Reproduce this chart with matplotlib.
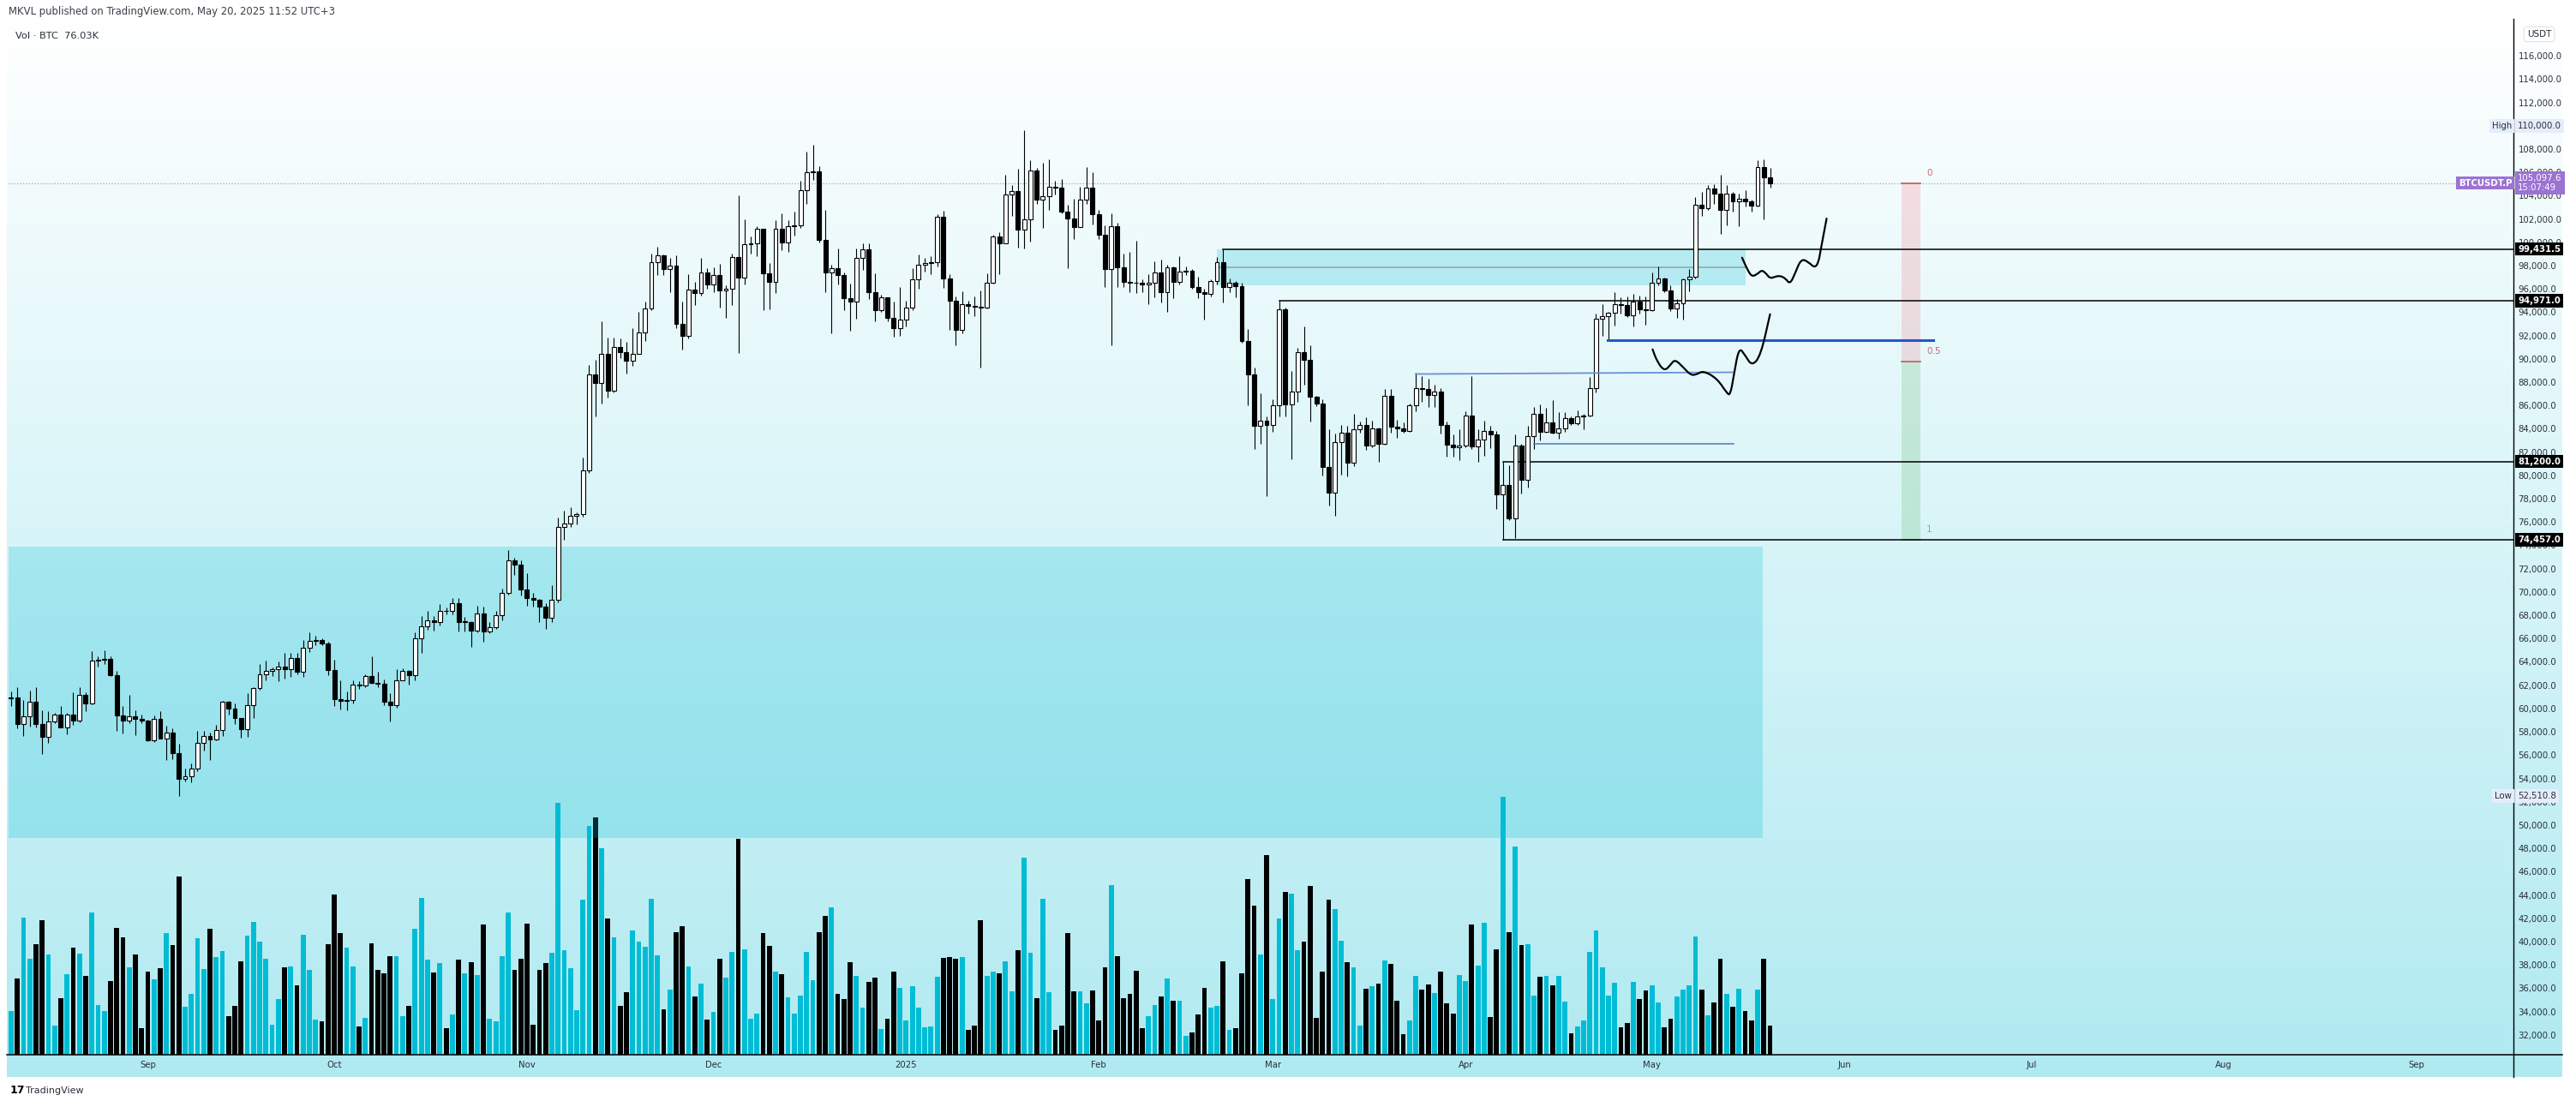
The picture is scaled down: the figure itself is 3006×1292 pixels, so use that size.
import numpy as np
import pandas as pd
import matplotlib
matplotlib.use("Agg")
import matplotlib.pyplot as plt
import matplotlib.transforms as mtransforms
from matplotlib.lines import Line2D
from matplotlib.patches import Rectangle, PathPatch
from matplotlib.path import Path

# ---------------- data (BTCUSDT.P daily) ----------------
base = pd.Timestamp("2024-09-01")
def d(s):
    return (pd.Timestamp(s) - base).days

dates = pd.date_range("2024-08-10", "2025-05-20", freq="D")

opens = [
    # Aug
    60900, 60950, 58700, 59350, 60600, 58700, 57550, 58900, 59500, 58400, 59500, 59000, 61150, 60400, 64100, 64200, 64250, 62850, 59400, 59000, 59350, 59100,
    # Sep
    58950, 57300, 59100, 57450, 57970, 56150, 53950, 54150, 54850, 57050, 57650, 57350, 58120, 60550, 60000, 59200, 58200, 60300, 61750, 62950, 63200, 63350, 63600, 63350, 64300, 63150, 65200, 65800, 65850, 65600,
    # Oct
    63300, 60800, 60650, 60750, 62050, 62000, 62800, 62200, 62150, 60600, 60300, 62450, 63200, 62850, 66050, 67050, 67600, 67400, 68400, 68350, 69000, 67400, 67450, 66650, 68150, 66600, 67000, 68000, 69900, 72700, 72350,
    # Nov
    70200, 69500, 69300, 68750, 67800, 69350, 75600, 75900, 76500, 76700, 80400, 88700, 87950, 90400, 87300, 91050, 90600, 89850, 90450, 92300, 94300, 98300, 98900, 97700, 98000, 93000, 91950, 95950, 95650, 97450,
    # Dec
    96400, 97200, 95850, 96000, 98750, 97000, 99850, 99900, 101150, 97350, 96600, 101150, 100000, 101400, 101450, 104450, 106050, 106100, 100200, 97450, 97750, 97200, 95200, 94900, 98650, 99400, 95750, 94200, 95250, 93550, 92650,
    # Jan
    93400, 94400, 96850, 98100, 98200, 98300, 102200, 96900, 95000, 92500, 94700, 94550, 94500, 94400, 96500, 100500, 99950, 104100, 104400, 101100, 102000, 106150, 103650, 103950, 104800, 104700, 102600, 102050, 101300, 103700, 104700,
    # Feb
    102400, 100650, 97700, 101400, 97850, 96600, 96550, 96500, 96400, 96500, 97400, 95750, 97850, 96600, 97500, 97550, 96150, 95750, 95550, 96650, 98300, 96150, 96550, 96250, 91550, 88700, 84250, 84700,
    # Mar
    84350, 86050, 94250, 86100, 87200, 90600, 89950, 86750, 86150, 80700, 78550, 82850, 83650, 81100, 83950, 84350, 82550, 84050, 82700, 86850, 84200, 84050, 83800, 86050, 87500, 87450, 86900, 87200, 84350, 82650, 82400,
    # Apr
    82550, 85150, 82500, 83100, 83850, 83500, 78350, 79150, 76300, 82600, 79600, 83400, 85300, 83750, 84550, 83650, 84050, 84900, 84450, 85050, 85150, 87500, 93450, 93650, 93950, 94700, 94650, 93750, 94950, 94250,
    # May
    94200, 96500, 96900, 95900, 94300, 94750, 96800, 97050, 103250, 102950, 104650, 104150, 102800, 104150, 103500, 103750, 103500, 103150, 106450, 105600,
]
highs = [
    61450, 61850, 60700, 61550, 61800, 59850, 59800, 59650, 60250, 59600, 61400, 61800, 61400, 64950, 64500, 65000, 64450, 63200, 60200, 61150, 59850, 59450,
    59050, 59400, 59800, 58500, 58300, 56950, 54850, 55300, 58100, 58050, 57950, 58600, 60650, 60650, 60400, 59200, 61350, 61800, 63850, 64100, 63550, 64000, 64750, 64800, 64800, 65850, 66500, 66250, 66050, 65700,
    64150, 62400, 61450, 62450, 62350, 62950, 64450, 63150, 62500, 61300, 63400, 63450, 63300, 66500, 67900, 68400, 67950, 68950, 68700, 69450, 69500, 67850, 67500, 68800, 68750, 67400, 68350, 70250, 73600, 72950, 72700,
    71600, 69900, 69400, 69050, 70550, 76400, 76950, 77250, 76850, 81500, 89500, 89950, 93250, 91800, 91850, 91750, 91450, 92600, 94000, 94950, 99000, 99600, 98950, 98700, 98900, 94950, 97300, 96600, 98650, 97750,
    97850, 98150, 96300, 99000, 104050, 101950, 100500, 101350, 101200, 98250, 101900, 102500, 101900, 102650, 105250, 107800, 108350, 106500, 102800, 98100, 99500, 97400, 96450, 99450, 99950, 99950, 97350, 95500, 95250, 94950, 96150,
    95000, 97800, 98950, 98700, 98800, 102450, 102700, 97250, 95350, 95800, 95000, 95350, 95850, 97350, 100650, 100850, 105800, 104950, 106300, 109600, 107050, 106400, 106850, 107100, 105250, 105450, 103200, 103750, 104800, 106450, 106000,
    102750, 101450, 102500, 101700, 99000, 99200, 100150, 96850, 97300, 98350, 98500, 98100, 97950, 98800, 97950, 97700, 97050, 96000, 96850, 98750, 99431.5, 96900, 96650, 96500, 92550, 89250, 87050, 85100,
    86550, 94971, 94400, 88950, 90950, 92800, 91200, 86850, 86500, 83950, 83600, 84350, 84250, 85250, 84650, 85000, 84700, 84100, 87450, 87450, 84800, 84550, 86150, 88800, 88550, 88300, 87800, 87500, 84600, 83550, 83950,
    85500, 88500, 83950, 84700, 84250, 83800, 81200, 80850, 83550, 82700, 84250, 85900, 86100, 85800, 86450, 85450, 85450, 85100, 85600, 85300, 88450, 93850, 94700, 94000, 95750, 95300, 95350, 95600, 95450, 95350,
    97400, 97900, 96950, 96300, 95150, 96900, 97700, 103850, 104350, 104950, 105000, 105800, 104900, 104300, 104150, 104500, 103700, 107050, 107100, 106400,
]
lows = [
    60250, 58300, 57650, 58450, 58400, 56100, 57050, 58750, 58400, 57800, 58600, 58800, 59800, 60350, 63600, 63800, 62800, 58100, 57850, 58750, 57750, 58750,
    57200, 57100, 57400, 55600, 55650, 52510.8, 53750, 53650, 54600, 56400, 55550, 57300, 57650, 59450, 58700, 57500, 57600, 59200, 61600, 62400, 62800, 62350, 62600, 62700, 62950, 62700, 64850, 65400, 65450, 62850,
    60200, 59900, 59850, 60450, 61650, 61850, 62100, 61800, 60300, 58900, 60050, 62450, 62050, 62400, 64800, 66750, 66650, 67150, 68050, 68050, 66600, 66600, 65250, 66550, 65700, 66450, 66800, 67550, 69750, 71450, 69700,
    68800, 68750, 67450, 66800, 67450, 69100, 74450, 75600, 75800, 76450, 80200, 85100, 86150, 86650, 87100, 90050, 88750, 89400, 90400, 91550, 94150, 97200, 97200, 95700, 92600, 90800, 91750, 94650, 95400, 96000,
    95700, 94400, 93550, 94650, 90500, 96400, 99000, 98800, 94150, 94250, 95650, 99300, 99200, 100600, 101250, 103300, 105350, 100000, 95700, 92200, 96400, 94200, 92400, 93450, 97600, 95150, 93250, 94050, 93200, 91900, 92000,
    92750, 94200, 96000, 97500, 97250, 97900, 96100, 92500, 91200, 92200, 93850, 93700, 89250, 94300, 96450, 97300, 99900, 102300, 99550, 99450, 100050, 103300, 101250, 102750, 104100, 102500, 97750, 100250, 101300, 103300, 101550,
    100300, 96150, 91200, 96150, 96200, 95700, 95650, 95700, 94700, 95250, 94850, 94050, 95200, 96350, 97200, 96050, 95200, 93350, 95350, 96400, 94850, 95700, 95250, 91350, 86050, 82250, 82700, 78200,
    83750, 85050, 85100, 81400, 86350, 87800, 84650, 85950, 80000, 77400, 76550, 80050, 79900, 80800, 83650, 82200, 82450, 81150, 82650, 83650, 83200, 83650, 83750, 85500, 86300, 85900, 85850, 83600, 81600, 81600, 81300,
    82450, 82300, 81200, 81650, 82350, 77150, 74457, 76200, 74600, 78450, 78950, 82300, 83000, 83700, 83600, 83150, 83750, 84300, 84350, 83950, 85100, 87100, 91950, 91650, 92850, 93900, 93600, 92800, 93900, 92900,
    94100, 96300, 95700, 94100, 93500, 93350, 95800, 96900, 102300, 102800, 103300, 100700, 101450, 102600, 101400, 103100, 102600, 103050, 102000, 104700,
]
closes = [
    60950, 58700, 59350, 60600, 58700, 57550, 58900, 59500, 58400, 59500, 59000, 61150, 60400, 64100, 64200, 64250, 62850, 59400, 59000, 59350, 59100, 58950,
    57300, 59100, 57450, 57970, 56150, 53950, 54150, 54850, 57050, 57650, 57350, 58120, 60550, 60000, 59200, 58200, 60300, 61750, 62950, 63200, 63350, 63600, 63350, 64300, 63150, 65200, 65800, 65850, 65600, 63300,
    60800, 60650, 60750, 62050, 62000, 62800, 62200, 62150, 60600, 60300, 62450, 63200, 62850, 66050, 67050, 67600, 67400, 68400, 68350, 69000, 67400, 67450, 66650, 68150, 66600, 67000, 68000, 69900, 72700, 72350, 70200,
    69500, 69300, 68750, 67800, 69350, 75600, 75900, 76500, 76700, 80400, 88700, 87950, 90400, 87300, 91050, 90600, 89850, 90450, 92300, 94300, 98300, 98900, 97700, 98000, 93000, 91950, 95950, 95650, 97450, 96400,
    97200, 95850, 96000, 98750, 97000, 99850, 99900, 101150, 97350, 96600, 101150, 100000, 101400, 101450, 104450, 106050, 106100, 100200, 97450, 97750, 97200, 95200, 94900, 98650, 99400, 95750, 94200, 95250, 93550, 92650, 93400,
    94400, 96850, 98100, 98200, 98300, 102200, 96900, 95000, 92500, 94700, 94550, 94500, 94400, 96500, 100500, 99950, 104100, 104400, 101100, 102000, 106150, 103650, 103950, 104800, 104700, 102600, 102050, 101300, 103700, 104700, 102400,
    100650, 97700, 101400, 97850, 96600, 96550, 96500, 96400, 96500, 97400, 95750, 97850, 96600, 97500, 97550, 96150, 95750, 95550, 96650, 98300, 96150, 96550, 96250, 91550, 88700, 84250, 84700, 84350,
    86050, 94250, 86100, 87200, 90600, 89950, 86750, 86150, 80700, 78550, 82850, 83650, 81100, 83950, 84350, 82550, 84050, 82700, 86850, 84200, 84050, 83800, 86050, 87500, 87450, 86900, 87200, 84350, 82650, 82400, 82550,
    85150, 82500, 83100, 83850, 83500, 78350, 79150, 76300, 82600, 79600, 83400, 85300, 83750, 84550, 83650, 84050, 84900, 84450, 85050, 85150, 87500, 93450, 93650, 93950, 94700, 94650, 93750, 94950, 94250, 94200,
    96500, 96900, 95900, 94300, 94750, 96800, 97050, 103250, 102950, 104650, 104150, 102800, 104150, 103500, 103750, 103500, 103150, 106450, 105600, 105097.6,
]
# volume, thousands of BTC
volumes = [
    114.2, 200.1, 358.4, 250.9, 289.7, 351.7, 262.1, 76.9, 147.8, 210.6, 280.0, 264.3, 206.1, 371.9, 129.2, 114.2, 192.6, 331.5, 306.9, 228.5, 262.1, 69.4,
    217.3, 197.1, 226.3, 318.1, 286.7, 465.9, 125.4, 159.0, 304.7, 224.0, 329.3, 255.4, 271.1, 100.8, 127.7, 244.2, 311.4, 347.2, 295.7, 250.9, 78.4, 145.6, 228.5, 230.7, 181.4, 313.6, 221.8, 91.8, 87.4, 289.0,
    418.9, 318.1, 280.0, 230.7, 73.9, 96.3, 291.2, 221.8, 212.8, 257.6, 257.6, 100.8, 127.7, 329.3, 409.9, 248.7, 215.0, 239.7, 69.4, 105.3, 248.7, 212.8, 241.9, 208.3, 340.5, 94.1, 87.4, 257.6, 371.9, 221.8, 250.9,
    342.7, 78.4, 221.8, 239.7, 266.6, 658.6, 273.3, 226.3, 116.5, 405.5, 598.1, 620.5, 539.9, 356.2, 306.9, 127.7, 163.5, 324.8, 295.7, 282.3, 407.7, 259.9, 118.7, 170.2, 320.3, 336.0, 230.7, 152.3, 185.9, 91.8,
    112.0, 250.9, 201.6, 268.8, 564.5, 275.5, 94.1, 107.5, 318.1, 284.5, 217.3, 210.6, 150.1, 107.5, 154.6, 268.8, 194.9, 320.3, 362.9, 385.3, 159.0, 145.6, 241.9, 206.1, 123.2, 190.4, 201.6, 67.2, 94.1, 217.3, 174.7,
    89.6, 179.2, 123.2, 71.7, 73.9, 203.8, 253.1, 255.4, 250.9, 255.4, 65.0, 76.2, 351.7, 206.1, 217.3, 212.8, 244.2, 165.8, 273.3, 515.2, 266.6, 147.8, 407.7, 163.5, 65.0, 76.2, 318.1, 165.8, 165.8, 134.4, 168.0,
    89.6, 228.5, 443.5, 257.6, 147.8, 159.0, 219.5, 69.4, 100.8, 129.9, 152.3, 199.4, 141.1, 141.1, 49.3, 58.2, 105.3, 174.7, 123.2, 127.7, 244.2, 65.0, 69.4, 212.8, 459.2, 389.8, 262.1, 521.9,
    145.6, 356.2, 425.6, 421.1, 273.3, 295.7, 441.3, 96.3, 217.3, 405.5, 380.8, 297.9, 241.9, 228.5, 76.2, 172.5, 179.2, 185.9, 246.4, 237.5, 141.1, 53.8, 89.6, 206.1, 170.2, 183.7, 161.3, 217.3, 134.4, 107.5, 208.3,
    192.6, 340.5, 233.0, 345.0, 98.6, 275.5, 674.3, 320.3, 544.3, 286.7, 289.0, 154.6, 203.8, 206.1, 181.4, 206.1, 138.9, 56.0, 73.9, 89.6, 268.8, 324.8, 228.5, 154.6, 188.2, 71.7, 82.9, 190.4, 145.6, 168.0,
    181.4, 136.6, 71.7, 94.1, 152.3, 170.2, 181.4, 309.1, 170.2, 103.0, 136.6, 250.9, 159.0, 125.4, 172.5, 114.2, 89.6, 170.2, 250.9, 76.03,
]

month_ticks = ["2024-09-01", "2024-10-01", "2024-11-01", "2024-12-01", "2025-01-01", "2025-02-01", "2025-03-01",
               "2025-04-01", "2025-05-01", "2025-06-01", "2025-07-01", "2025-08-01", "2025-09-01"]
month_labels = ["Sep", "Oct", "Nov", "Dec", "2025", "Feb", "Mar", "Apr", "May", "Jun", "Jul", "Aug", "Sep"]

last_price = 105097.6
# horizontal levels: (price, start date, label)
levels = [(99431.5, "2025-02-21", "99,431.5"), (94971.0, "2025-03-02", "94,971.0"),
          (81200.0, "2025-04-07", "81,200.0"), (74457.0, "2025-04-07", "74,457.0")]
high_label, low_label = 110000.0, 52510.8

# zones
big_zone = ("2024-08-07", 259.8, 48880, 73880)        # start, end day, bottom, top
small_zone = ("2025-02-20", "2025-05-16", 96330, 99431.5)
small_zone_mid = 97850

# blue lines: (x0 day, x1 day, y0, y1)
blue_lines = [(234.9, 287.2, 91600, 91600), (204.0, 255.0, 88700, 88850), (223.0, 255.2, 82700, 82700)]

# fib tool
fib_x = (282.1, 285.2)
fib_top, fib_bottom = last_price, 74457.0

# freehand paths (day offsets from 2024-09-01, price)
path_a_x = [256.5, 257.4, 258.1, 259.0, 259.7, 260.4, 261.0, 261.8, 262.6, 263.5, 264.2, 265.0, 266.0, 267.2, 268.2, 268.8, 269.1, 270.1]
path_a_y = [98684, 97600, 97044, 97300, 97632, 97300, 96897, 97050, 97140, 96900, 96404, 97300, 98610, 98300, 97800, 98300, 99228, 102044]
path_b_x = [242.1, 242.8, 244.0, 245.0, 245.7, 247.0, 248.3, 249.3, 250.3, 252.5, 254.0, 254.6, 255.2, 256.0, 257.0, 258.1, 259.5, 261.0]
path_b_y = [90816, 89800, 88934, 89500, 89963, 89300, 88566, 88700, 88978, 88300, 87100, 86846, 88700, 91015, 90300, 89375, 90300, 93831]

# ---------------- figure ----------------
W, H = 3006, 1292
def fx(p):
    return p / W
def fy(p):
    return 1 - p / H

fig = plt.figure(figsize=(W / 100, H / 100), dpi=100)
fig.patch.set_facecolor("white")

# gradient background of the chart container
bg = fig.add_axes([fx(8), fy(1257), fx(2990) - fx(8), fy(22) - fy(1257)])
grad = np.linspace(0, 1, 256)[:, None]
top_c = np.array([255, 255, 255]) / 255
bot_c = np.array([176, 234, 241]) / 255
img = top_c[None, None, :] * (1 - grad[..., None]) + bot_c[None, None, :] * grad[..., None]
bg.imshow(img, aspect="auto", extent=[0, 1, 0, 1], origin="upper")
bg.axis("off")

rect = [fx(10), fy(1231), fx(2933) - fx(10), fy(27) - fy(1231)]
axv = fig.add_axes(rect)
ax = fig.add_axes(rect)
for a in (axv, ax):
    a.set_facecolor("none")
axv.set_zorder(1)
ax.set_zorder(2)

x = np.array((dates - base).days, dtype=float)
xmin, xmax = -22.4, 380.6
ax.set_xlim(xmin, xmax)
axv.set_xlim(xmin, xmax)
ax.set_ylim(30290, 118810)
axv.set_ylim(0, 2700)
axv.axis("off")

o = np.array(opens)
c = np.array(closes)
up = c >= o

# volume
cyan = "#00bcd4"
axv.bar(x, volumes, width=0.8, color=np.where(up, cyan, "black"), linewidth=0)

# zones
ax.add_patch(Rectangle((d(big_zone[0]), big_zone[2]), big_zone[1] - d(big_zone[0]), big_zone[3] - big_zone[2],
                       facecolor=cyan, alpha=0.23, edgecolor="none", zorder=1))
ax.add_patch(Rectangle((d(small_zone[0]), small_zone[2]), d(small_zone[1]) - d(small_zone[0]),
                       small_zone[3] - small_zone[2], facecolor=cyan, alpha=0.23, edgecolor="none", zorder=1))
ax.plot([d(small_zone[0]), d(small_zone[1])], [small_zone_mid] * 2, color="#8da2ab", lw=1.1, zorder=1.5)

# fib tool
fib_mid = (fib_top + fib_bottom) / 2
ax.add_patch(Rectangle((fib_x[0], fib_mid), fib_x[1] - fib_x[0], fib_top - fib_mid,
                       facecolor="#f23645", alpha=0.15, edgecolor="none", zorder=1))
ax.add_patch(Rectangle((fib_x[0], fib_bottom), fib_x[1] - fib_x[0], fib_mid - fib_bottom,
                       facecolor="#4caf50", alpha=0.2, edgecolor="none", zorder=1))
ax.plot(fib_x, [fib_top] * 2, color="#c9575e", lw=1.2, zorder=2)
ax.plot(fib_x, [fib_mid] * 2, color="#c9575e", lw=1.2, zorder=2)
ax.plot(fib_x, [fib_bottom] * 2, color="#6cbf72", lw=1.2, zorder=2)
for lv, txt, col in [(fib_top, "0", "#d0696f"), (fib_mid, "0.5", "#d0696f"), (fib_bottom, "1", "#6cbf72")]:
    ax.text(fib_x[1] + 1.0, lv + 500, txt, color=col, fontsize=7.5, ha="left", va="bottom", zorder=3)

# last price dotted line
ax.axhline(last_price, color="#8c919c", lw=0.8, ls=(0, (1, 2)), zorder=1.5)

# horizontal levels
for p, start, _ in levels:
    ax.plot([d(start), xmax], [p, p], color="black", lw=1.1, zorder=2.2)

# blue lines
ax.plot(blue_lines[0][:2], blue_lines[0][2:], color="#2456c9", lw=2.2, zorder=4)
ax.plot(blue_lines[1][:2], blue_lines[1][2:], color="#6b8fd8", lw=1.3, zorder=4)
ax.plot(blue_lines[2][:2], blue_lines[2][2:], color="#4f74c6", lw=1.1, zorder=4)

# candles
ax.vlines(x, lows, highs, color="black", lw=0.8, zorder=3)
body_lo = np.minimum(o, c)
body_h = np.maximum(np.abs(c - o), 60)
ax.bar(x, body_h, bottom=body_lo, width=0.68, color=np.where(up, "white", "black"),
       edgecolor="black", linewidth=0.8, zorder=3.5)

# freehand drawings, drawn as smooth quadratic curves through the read points
def freehand(xs, ys):
    pts = np.column_stack([xs, ys])
    mids = (pts[:-1] + pts[1:]) / 2
    verts = [pts[0], mids[0]]
    codes = [Path.MOVETO, Path.LINETO]
    for i in range(1, len(pts) - 1):
        verts += [pts[i], mids[i]]
        codes += [Path.CURVE3, Path.CURVE3]
    verts.append(pts[-1])
    codes.append(Path.LINETO)
    ax.add_patch(PathPatch(Path(verts, codes), fill=False, edgecolor="black", lw=1.6,
                           capstyle="round", joinstyle="round", zorder=5))

freehand(path_a_x, path_a_y)
freehand(path_b_x, path_b_y)

# axes styling
for s in ax.spines.values():
    s.set_visible(False)
ax.yaxis.tick_right()
ax.set_yticks(np.arange(32000, 116001, 2000))
ax.set_yticklabels([f"{v:,.1f}" for v in np.arange(32000, 116001, 2000)])
ax.tick_params(axis="y", length=0, pad=4, labelsize=7.3, labelcolor="#2a2e39")
ax.set_xticks([d(m) for m in month_ticks])
ax.set_xticklabels(month_labels)
ax.tick_params(axis="x", length=0, pad=5, labelsize=7.3, labelcolor="#2a2e39")

tr = mtransforms.blended_transform_factory(ax.transAxes, ax.transData)
for p, _, lab in levels:
    ax.text(1.0018, p, lab, transform=tr, ha="left", va="center", fontsize=7.3, color="white",
            fontweight="bold", clip_on=False, zorder=10,
            bbox=dict(boxstyle="square,pad=0.28", fc="black", ec="none"))
ax.text(1.0018, last_price, "105,097.6\n15:07:49", transform=tr, ha="left", va="center", fontsize=7.3,
        color="white", linespacing=1.15, clip_on=False, zorder=10,
        bbox=dict(boxstyle="square,pad=0.3", fc="#9b73d3", ec="none"))
ax.text(0.9994, last_price, "BTCUSDT.P", transform=tr, ha="right", va="center", fontsize=7.3,
        color="white", fontweight="bold", clip_on=False, zorder=10,
        bbox=dict(boxstyle="square,pad=0.25", fc="#9b73d3", ec="none"))
for val, name, lab in [(high_label, "High", "110,000.0"), (low_label, "Low", "52,510.8")]:
    ax.text(0.9994, val, name, transform=tr, ha="right", va="center", fontsize=7.3, color="#2a2e39",
            clip_on=False, zorder=10, bbox=dict(boxstyle="square,pad=0.3", fc="#e4edf9", ec="none"))
    ax.text(1.0018, val, lab, transform=tr, ha="left", va="center", fontsize=7.3, color="#2a2e39",
            clip_on=False, zorder=10, bbox=dict(boxstyle="square,pad=0.3", fc="#e4edf9", ec="none"))

# axis lines
fig.add_artist(Line2D([fx(2933), fx(2933)], [fy(22), fy(1257)], color="black", lw=1.0))
fig.add_artist(Line2D([fx(8), fx(2990)], [fy(1231), fy(1231)], color="black", lw=1.1))

# header / legend / footer texts
fig.text(fx(10), fy(14), "MKVL published on TradingView.com, May 20, 2025 11:52 UTC+3",
         fontsize=8.4, color="#3b3f48", va="center", ha="left")
fig.text(fx(18), fy(42), "Vol · BTC  76.03K", fontsize=8.2, color="#2a2e39", va="center", ha="left")
fig.text(fx(2963), fy(40), "USDT", fontsize=7.5, color="#2a2e39", va="center", ha="center",
         bbox=dict(boxstyle="round,pad=0.35", fc="white", ec="#e0e3eb", lw=0.8))
fig.text(fx(12), fy(1273), "17", fontsize=9, fontweight="bold", color="black", va="center", ha="left")
fig.text(fx(30), fy(1273), "TradingView", fontsize=8, color="#2a2e39", va="center", ha="left")

fig.savefig("out.png", dpi=100, facecolor="white")
